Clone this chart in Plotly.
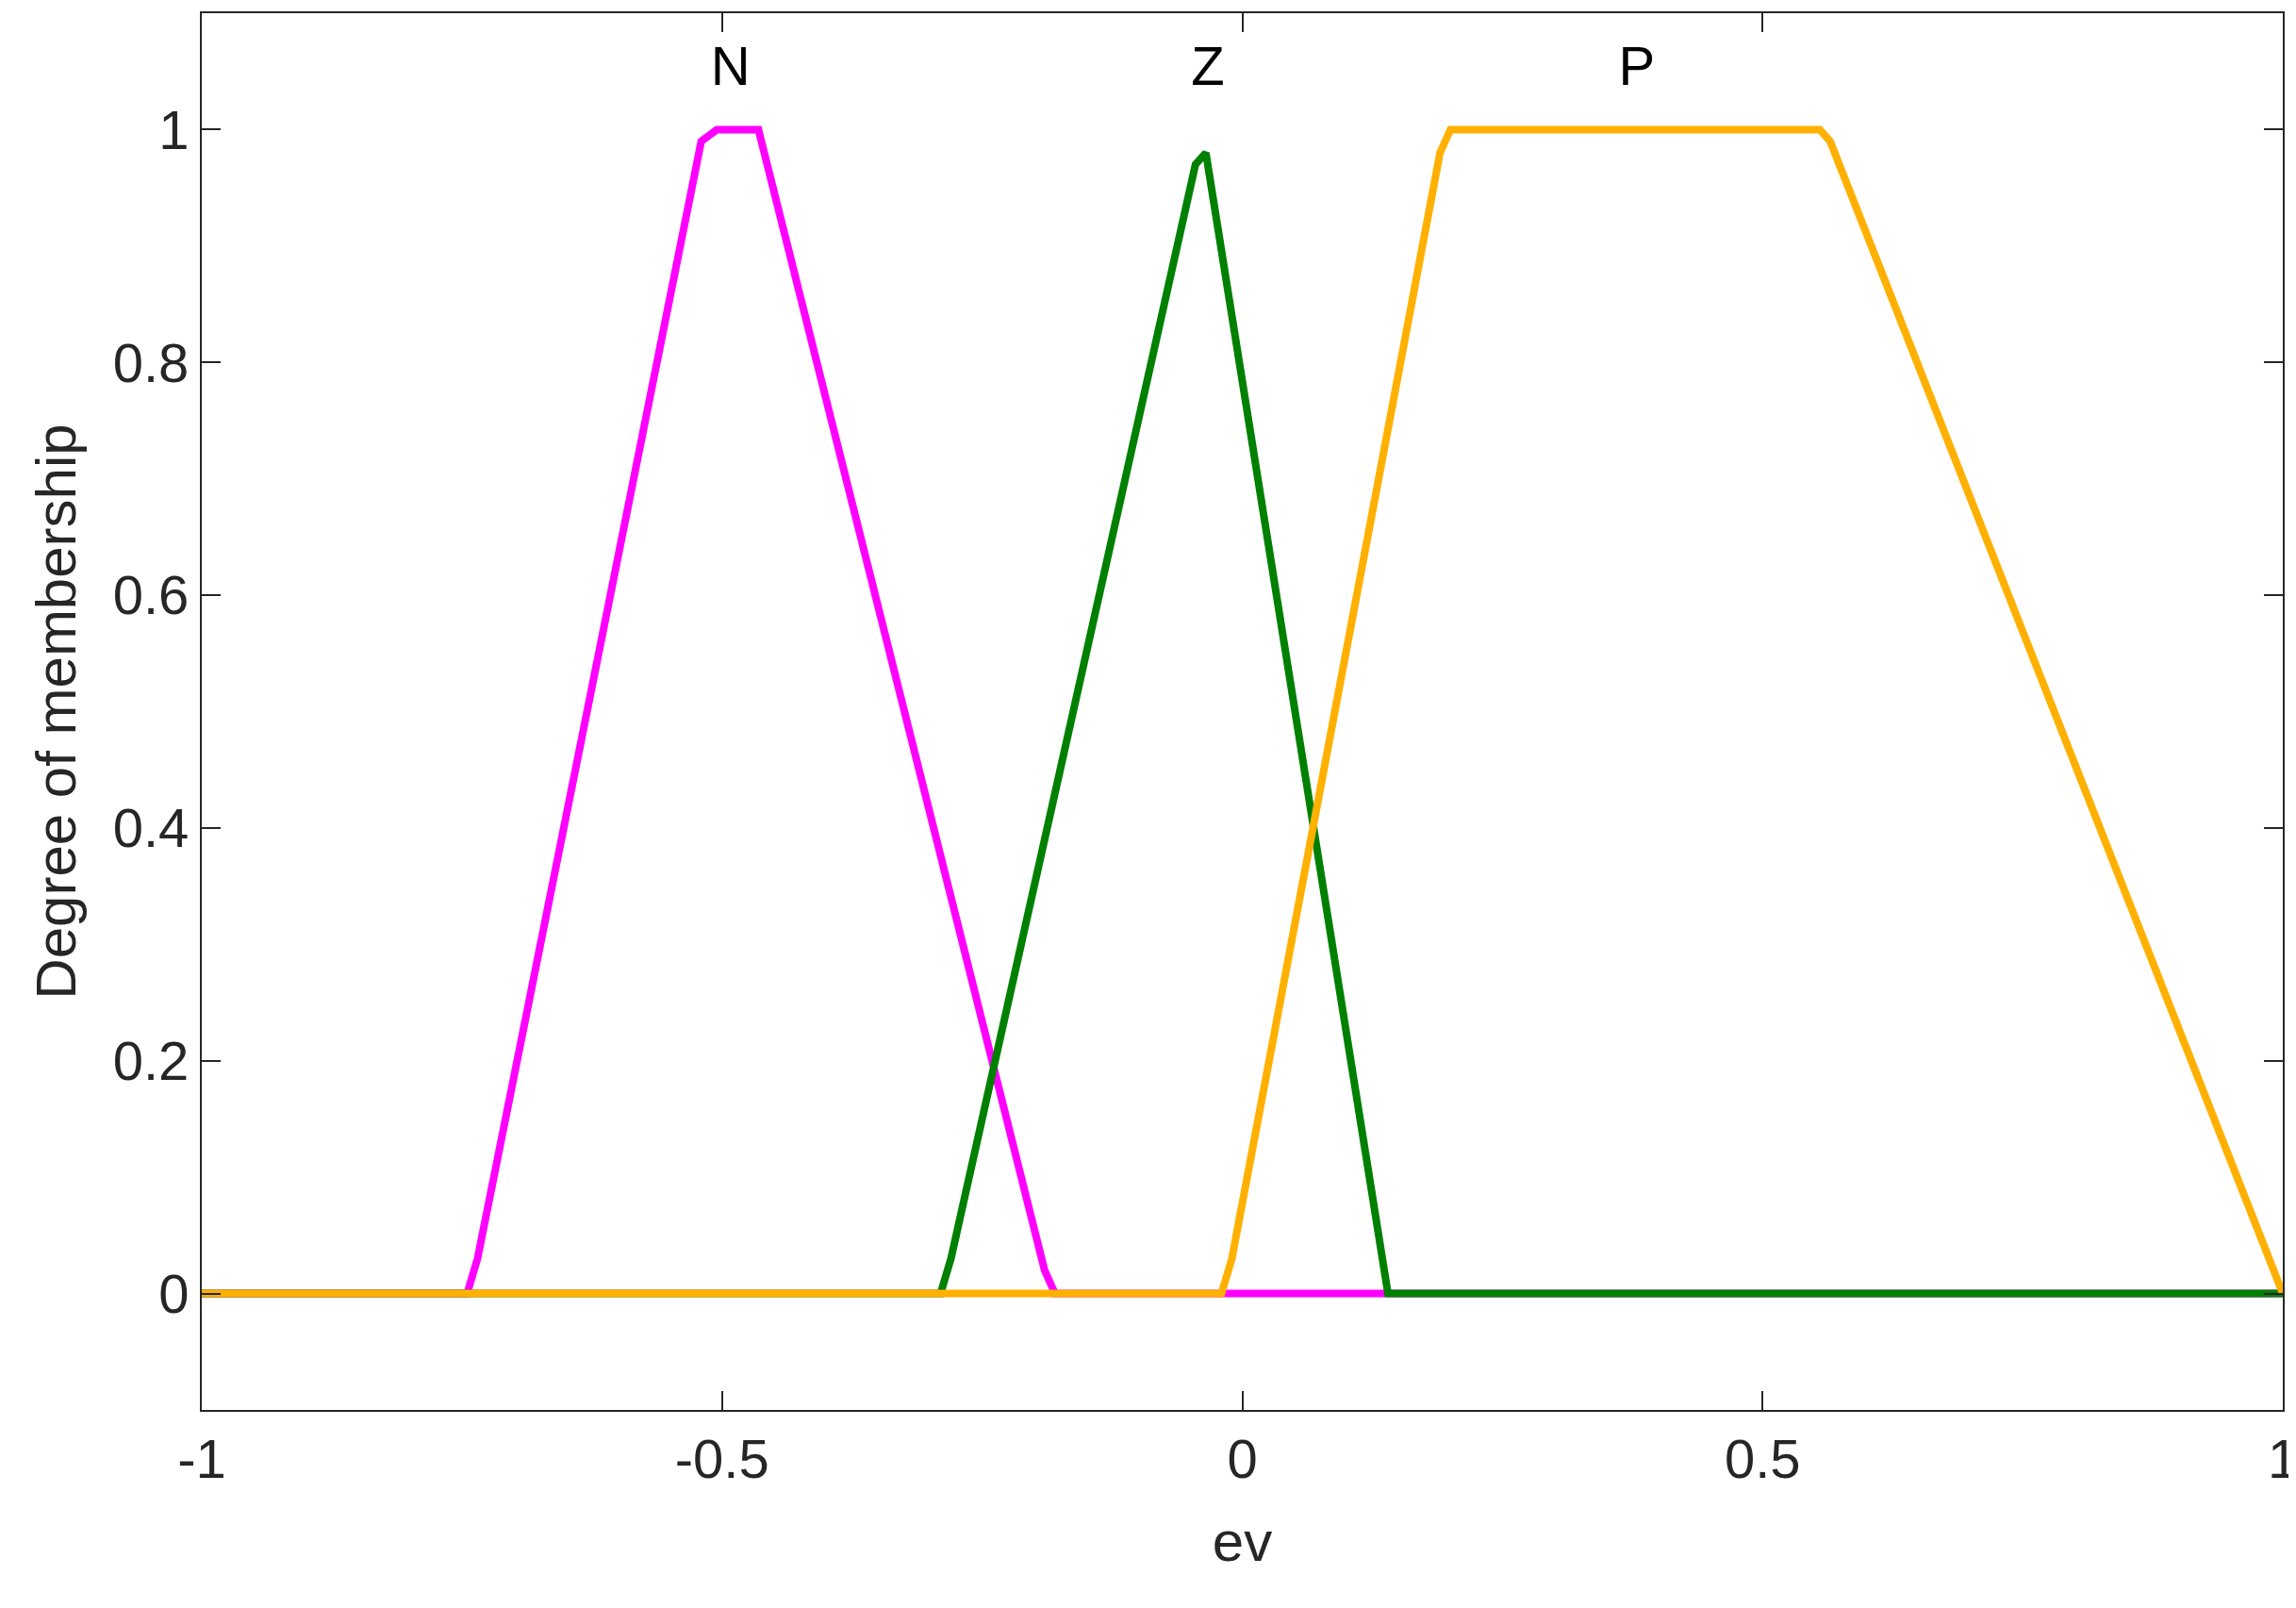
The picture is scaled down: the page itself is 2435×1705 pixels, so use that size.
import plotly.graph_objects as go

n_x = [-1, -0.745, -0.735, -0.52, -0.505, -0.465, -0.19, -0.18, 1]
n_y = [0, 0, 0.03, 0.99, 1, 1, 0.02, 0, 0]
z_x = [-1, -0.29, -0.28, -0.045, -0.035, 0.14, 1]
z_y = [0, 0, 0.03, 0.97, 0.98, 0, 0]
p_x = [-1, -0.02, -0.01, 0.19, 0.2, 0.555, 0.565, 1]
p_y = [0, 0, 0.03, 0.98, 1, 1, 0.99, 0]
labels = ["N", "Z", "P"]
label_x = [-0.492, -0.033, 0.379]
label_y = [1.05, 1.05, 1.05]

font = "Liberation Sans, Arial, sans-serif"
fig = go.Figure()
fig.add_trace(go.Scatter(x=n_x, y=n_y, mode="lines", line=dict(color="#FF00FF", width=8)))
fig.add_trace(go.Scatter(x=z_x, y=z_y, mode="lines", line=dict(color="#008000", width=8)))
fig.add_trace(go.Scatter(x=p_x, y=p_y, mode="lines", line=dict(color="#FFB000", width=8)))
fig.add_trace(go.Scatter(x=label_x, y=label_y, mode="text", text=labels,
                         textfont=dict(size=58, color="black", family=font)))

axis_common = dict(showgrid=False, zeroline=False, showline=True, linecolor="#262626",
                   linewidth=2, mirror="ticks", ticks="inside", ticklen=20, tickwidth=2,
                   tickcolor="#262626", tickfont=dict(size=58, color="#262626", family=font))
fig.update_xaxes(range=[-1, 1], tickvals=[-1, -0.5, 0, 0.5, 1],
                 ticktext=["-1", "-0.5", "0", "0.5", "1"],
                 title=dict(text="ev", font=dict(size=60, color="#262626", family=font), standoff=35),
                 **axis_common)
fig.update_yaxes(range=[-0.1, 1.1], tickvals=[0, 0.2, 0.4, 0.6, 0.8, 1],
                 ticktext=["0", "0.2", "0.4", "0.6", "0.8", "1"],
                 title=dict(text="Degree of membership", font=dict(size=60, color="#262626", family=font), standoff=20),
                 **axis_common)
fig.update_layout(width=2435, height=1705, showlegend=False, plot_bgcolor="white",
                  paper_bgcolor="white", margin=dict(l=206, r=22, t=4, b=218))
fig.write_html("out.html")
